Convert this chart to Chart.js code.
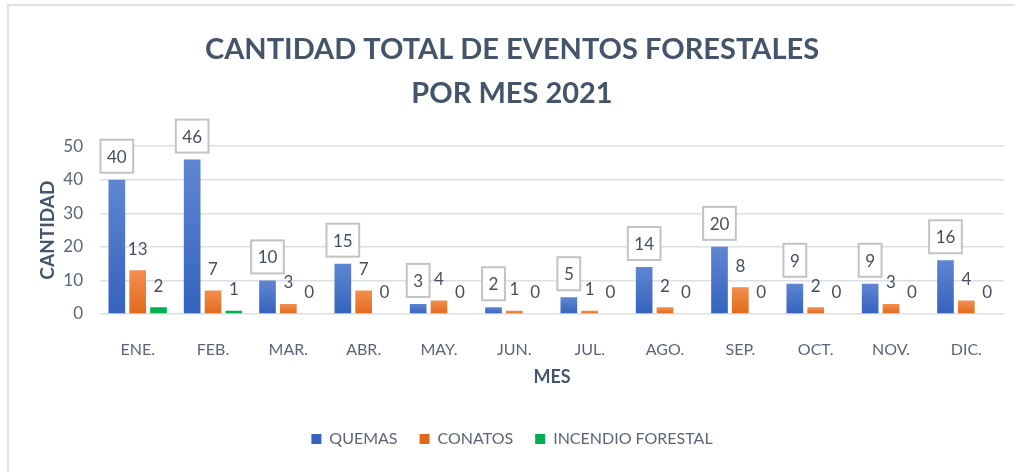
<!DOCTYPE html>
<html>
<head>
<meta charset="utf-8">
<script src="https://cdn.jsdelivr.net/npm/chart.js@4"></script>
<style>
  html, body { margin: 0; padding: 0; background: #ffffff; }
  #frame {
    position: absolute; left: 7px; top: 4px; width: 1030px; height: 490px;
    border: 2px solid #dfe3e9; box-sizing: border-box;
  }
  #wrap { position: absolute; left: 0; top: 0; width: 1015px; height: 472px; }
</style>
</head>
<body>
<div id="frame"></div>
<div id="wrap"><canvas id="chart"></canvas></div>
<script>
// ---- data ----
const months = ['ENE.', 'FEB.', 'MAR.', 'ABR.', 'MAY.', 'JUN.', 'JUL.', 'AGO.', 'SEP.', 'OCT.', 'NOV.', 'DIC.'];
const quemas = [40, 46, 10, 15, 3, 2, 5, 14, 20, 9, 9, 16];
const conatos = [13, 7, 3, 7, 4, 1, 1, 2, 8, 2, 3, 4];
const incendio = [2, 1, 0, 0, 0, 0, 0, 0, 0, 0, 0, 0];
const yTicks = [0, 10, 20, 30, 40, 50];

const FONT = 'Lato, "Open Sans", sans-serif';
const TEXT = '#5b6576';
const DARK = '#44546a';

// vertical gradient per bar, solid colour for the legend
function barFill(solid, top, bottom) {
  return (ctx) => {
    if (ctx.type !== 'data' || !ctx.chart.chartArea) return solid;
    const y = ctx.chart.scales.y;
    const yTop = y.getPixelForValue(ctx.parsed.y);
    const yBase = y.getPixelForValue(0);
    if (yBase - yTop < 1) return solid;
    const g = ctx.chart.ctx.createLinearGradient(0, yTop, 0, yBase);
    g.addColorStop(0, top);
    g.addColorStop(1, bottom);
    return g;
  };
}

// data labels: boxed for the first series, plain for the others
const valueLabels = {
  id: 'valueLabels',
  afterDatasetsDraw(chart) {
    const ctx = chart.ctx;
    ctx.save();
    ctx.font = '17px ' + FONT;
    ctx.textAlign = 'center';
    ctx.textBaseline = 'middle';
    chart.data.datasets.forEach((ds, i) => {
      const meta = chart.getDatasetMeta(i);
      meta.data.forEach((bar, j) => {
        const txt = String(ds.data[j]);
        if (i === 0) {
          const w = ctx.measureText(txt).width + 13;
          const h = 33;
          const cy = bar.y - 7 - h / 2;
          ctx.fillStyle = '#ffffff';
          ctx.fillRect(bar.x - w / 2, cy - h / 2, w, h);
          ctx.strokeStyle = '#c3c3c3';
          ctx.lineWidth = 2;
          ctx.strokeRect(bar.x - w / 2, cy - h / 2, w, h);
          ctx.fillStyle = '#454f5e';
          ctx.fillText(txt, bar.x, cy + 1);
        } else {
          ctx.fillStyle = '#454f5e';
          ctx.fillText(txt, bar.x, bar.y - 21);
        }
      });
    });
    ctx.restore();
  }
};

new Chart(document.getElementById('chart'), {
  type: 'bar',
  data: {
    labels: months,
    datasets: [
      { label: 'QUEMAS', data: quemas, backgroundColor: barFill('#4472c4', '#5f86d2', '#3462bd') },
      { label: 'CONATOS', data: conatos, backgroundColor: barFill('#ed7d31', '#f38f50', '#e2691c') },
      { label: 'INCENDIO FORESTAL', data: incendio, backgroundColor: '#00b050' }
    ]
  },
  options: {
    responsive: true,
    maintainAspectRatio: false,
    animation: false,
    categoryPercentage: 0.83,
    barPercentage: 0.8,
    layout: { padding: { left: 20, right: 11, top: 0, bottom: 15 } },
    plugins: {
      tooltip: { enabled: false },
      title: {
        display: true,
        text: ['CANTIDAD TOTAL DE EVENTOS FORESTALES', 'POR MES 2021'],
        color: DARK,
        font: { family: FONT, size: 29, weight: 'bold', lineHeight: 1.52 },
        padding: { top: 28, bottom: 30 }
      },
      legend: {
        position: 'bottom',
        labels: {
          color: TEXT,
          font: { family: FONT, size: 16 },
          boxWidth: 10,
          boxHeight: 10,
          padding: 22
        }
      }
    },
    scales: {
      x: {
        grid: { display: false },
        border: { display: false },
        ticks: { color: TEXT, font: { family: FONT, size: 16 }, padding: 18 },
        title: {
          display: true, text: 'MES', color: DARK,
          font: { family: FONT, size: 18, weight: 'bold' },
          padding: { top: 0, bottom: 21 }
        },
        afterFit(scale) { scale.height = 95; }
      },
      y: {
        min: 0,
        max: 50,
        afterBuildTicks(scale) { scale.ticks = yTicks.map(v => ({ value: v })); },
        grid: { color: '#dcdfe4', lineWidth: 1.5, drawTicks: false },
        border: { display: false },
        ticks: { color: TEXT, font: { family: FONT, size: 17 }, padding: 17 },
        title: {
          display: true, text: 'CANTIDAD', color: DARK,
          font: { family: FONT, size: 19, weight: 'bold' },
          padding: { top: 16, bottom: 0 }
        },
        afterFit(scale) { scale.width = 80; }
      }
    }
  },
  plugins: [valueLabels]
});
</script>
</body>
</html>
